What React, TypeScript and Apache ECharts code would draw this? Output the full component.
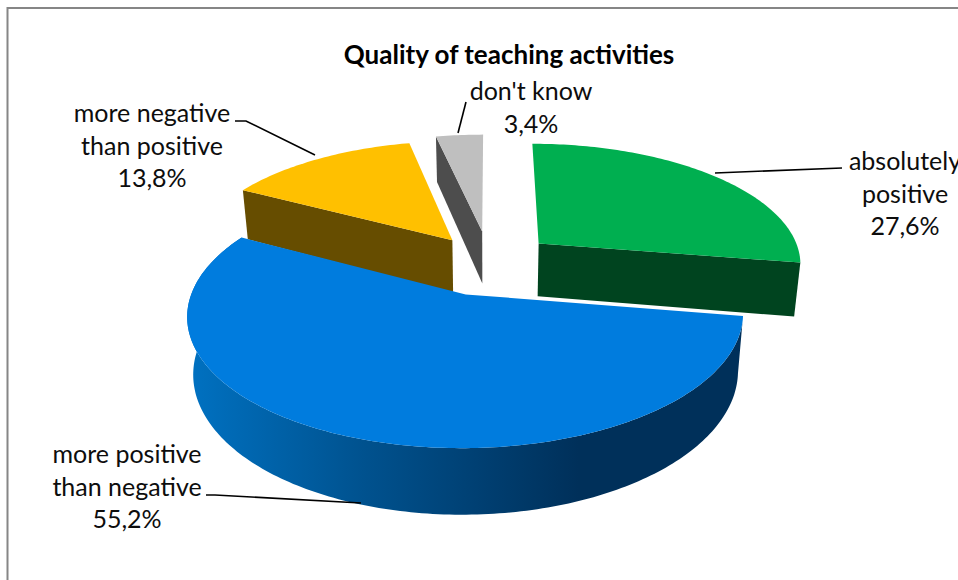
import React, { useEffect, useRef } from "react";
import * as echarts from "echarts";

const titleText = "Quality of teaching activities";
const categories = ["absolutely\npositive", "more positive\nthan negative", "more negative\nthan positive", "don't know"];
const shares = [27.6, 55.2, 13.8, 3.4];

const FONT = "Lato, 'Open Sans', sans-serif";
const view = { cx: 489.5, cy: 262.5, a: 264, b: 120, k: 0.15, depth: 54, shrink: 0.98 };
const explode = [0.25, 0.27, 0.24, 0.27];
const tops = ["#00AF50", "#007CDE", "#FFC000", "#BFBFBF"];
const walls = ["#00441F", "", "#664D00", "#4D4D4D"];
const wallKinds = ["end", "rim", "start", "start"];
const order = [3, 4, 2, 1];
const labelPos = [[905, 160], [127, 453], [152, 112], [531, 90]];
const leaders = [
  [[842, 168], [715, 173]],
  [[206, 495], [215, 495], [361, 503]],
  [[235, 121], [246, 121], [315, 155]],
  [[466, 102], [458, 133]],
];

const project = (X: number, Y: number) => {
  const w = 1 - view.k * Y;
  const x = view.cx + (view.a * X) / w;
  const y = view.cy + (view.b * Y) / w;
  return {
    top: [x, y],
    bottom: [view.cx + (x - view.cx) * view.shrink, y + view.depth / w],
  };
};

const sliceGeometry = (index: number) => {
  const total = shares.reduce((s, v) => s + v, 0);
  const before = shares.slice(0, index).reduce((s, v) => s + v, 0);
  const start = (before / total) * Math.PI * 2;
  const end = ((before + shares[index]) / total) * Math.PI * 2;
  const mid = (start + end) / 2;
  const ox = Math.sin(mid) * explode[index];
  const oy = -Math.cos(mid) * explode[index];
  const at = (theta: number, r: number) => project(ox + r * Math.sin(theta), oy - r * Math.cos(theta));
  const steps = Math.max(8, Math.ceil((end - start) / (Math.PI / 180)));
  const rim = [];
  for (let i = 0; i <= steps; i++) rim.push(at(start + ((end - start) * i) / steps, 1));
  return { apex: at(0, 0), rim, first: rim[0], last: rim[rim.length - 1] };
};

const renderItem = (params: any, api: any) => {
  const i = params.dataIndex;
  const share = api.value(0);
  const g = sliceGeometry(i);
  const z = order[i];
  const children: any[] = [];
  let wallPoints: number[][];
  let wallFill: any = walls[i];
  if (wallKinds[i] === "rim") {
    wallPoints = [...g.rim.map((p) => p.top), ...g.rim.slice().reverse().map((p) => p.bottom)];
    wallFill = new echarts.graphic.LinearGradient(
      190, 0, 745, 0,
      [
        { offset: 0, color: "#0071C1" },
        { offset: 0.31, color: "#00528F" },
        { offset: 0.7, color: "#00305A" },
        { offset: 1, color: "#00305A" },
      ],
      true
    );
  } else {
    const edge = wallKinds[i] === "end" ? g.last : g.first;
    wallPoints = [g.apex.top, edge.top, edge.bottom, g.apex.bottom];
  }
  children.push({ type: "polygon", z2: z * 10, shape: { points: wallPoints }, style: { fill: wallFill } });
  children.push({
    type: "polygon",
    z2: z * 10 + 1,
    shape: { points: [g.apex.top, ...g.rim.map((p) => p.top)] },
    style: { fill: tops[i] },
  });
  children.push({
    type: "polyline",
    z2: 100,
    shape: { points: leaders[i] },
    style: { stroke: "#000000", lineWidth: 1.6, fill: "none" },
  });
  children.push({
    type: "text",
    z2: 101,
    x: labelPos[i][0],
    y: labelPos[i][1],
    style: {
      text: `${categories[i]}\n${share.toFixed(1).replace(".", ",")}%`,
      font: `25px ${FONT}`,
      lineHeight: 32.5,
      fill: "#0D0D0D",
      align: "center",
      verticalAlign: "top",
      y: -16,
    },
  });
  return { type: "group", children };
};

export default function App() {
  const ref = useRef<HTMLDivElement>(null);
  useEffect(() => {
    document.body.style.margin = "0";
    const chart = echarts.init(ref.current!, null, { renderer: "svg" });
    chart.setOption({
      animation: false,
      backgroundColor: "#FFFFFF",
      title: {
        text: titleText,
        left: 504,
        top: 36,
        textAlign: "center",
        textStyle: { fontFamily: FONT, fontSize: 26, fontWeight: "bold", color: "#000000" },
      },
      graphic: [
        {
          type: "rect",
          z: -1,
          shape: { x: 7.5, y: 8, width: 1000, height: 620 },
          style: { fill: "none", stroke: "#868686", lineWidth: 2 },
        },
      ],
      series: [
        {
          type: "custom",
          coordinateSystem: "none",
          silent: true,
          renderItem,
          data: shares.map((v) => [v]),
        },
      ],
    });
    return () => chart.dispose();
  }, []);
  return <div ref={ref} style={{ width: 958, height: 580 }} />;
}
